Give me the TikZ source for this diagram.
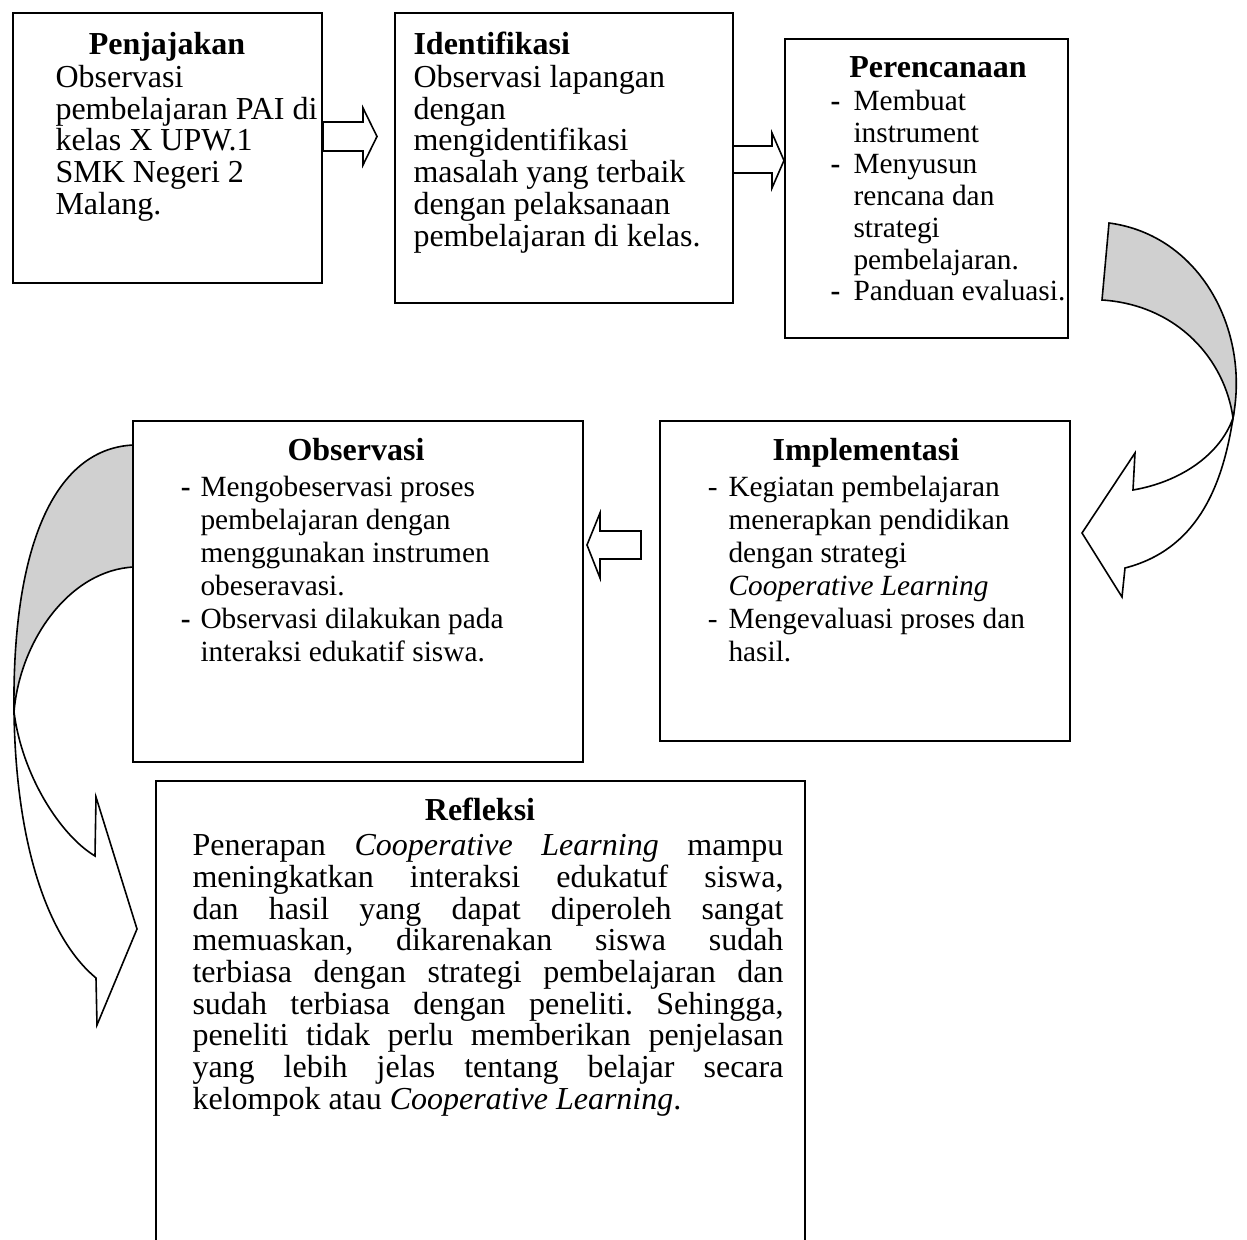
\documentclass[tikz,border=0pt]{standalone}
\usepackage{fontspec}
\setmainfont{Liberation Serif}
\setlength{\parindent}{0pt}
\frenchspacing
\definecolor{bandgray}{RGB}{208,208,208}
% strut fixing the height of a first text line
\newcommand{\tstrut}{\rule{0pt}{9pt}}
% hanging list dashes (bold and regular)
\newcommand{\bdash}[1]{\llap{\textbf{-}\hspace{#1}}}
\newcommand{\rdash}[1]{\llap{-\hspace{#1}}}
% one fully justified line of the Refleksi paragraph
\newlength{\reflw}
\setlength{\reflw}{221.6pt}
\newcommand{\jline}[1]{\hbox to \reflw{#1}}

\begin{document}
\begin{tikzpicture}[x=0.375pt, y=-0.375pt,
  boxwh/.style 2 args={minimum width=#1*0.375pt, minimum height=#2*0.375pt},
  box/.style={draw, line width=0.75pt, fill=white, anchor=north west, inner sep=0pt},
  ttl/.style={anchor=base, inner sep=0pt, font=\fontsize{12}{12}\selectfont\bfseries},
  txt/.style={anchor=north west, inner sep=0pt, align=left},
  twelve/.style={font=\fontsize{12}{11.9}\selectfont},
  eleven/.style={font=\fontsize{11}{12.4}\selectfont},
  band/.style={draw, line width=0.6pt, fill=bandgray, line join=miter},
  flat/.style={draw, line width=0.6pt, fill=white, line join=miter}]

\useasboundingbox (0,0) rectangle (1247,1240);
\clip (0,0) rectangle (1247,1240);

% curved arrow on the right: Perencanaan -> Implementasi
\path[band] (1102,300) -- (1109,223)
  .. controls (1200,235) and (1250,330) .. (1233,418)
  .. controls (1225,360) and (1178,305) .. (1102,300) -- cycle;
\path[flat] (1233,418) .. controls (1220,455) and (1180,482) .. (1133,490)
  -- (1135,453) -- (1082,533) -- (1122,597) -- (1125,568)
  .. controls (1195,550) and (1222,490) .. (1233,418) -- cycle;

% curved arrow on the left: Observasi -> Refleksi
\path[band] (134,445) .. controls (55,448) and (12,545) .. (14,712)
  .. controls (20,640) and (70,570) .. (134,567) -- cycle;
\path[flat] (14,712) .. controls (22,775) and (60,835) .. (95,856)
  -- (96,797) -- (137,929) -- (97,1025) -- (96,978)
  .. controls (50,940) and (16,850) .. (14,712) -- cycle;

% straight block arrows
\path[flat] (323,122) -- (363,122) -- (363,108) -- (377,136.5) -- (363,165)
  -- (363,151) -- (323,151) -- cycle;
\path[flat] (732,146) -- (772,146) -- (772,133) -- (784,160.5) -- (772,188)
  -- (772,173) -- (732,173) -- cycle;
\path[flat] (641,531) -- (600,531) -- (600,513) -- (587,545) -- (600,578)
  -- (600,559) -- (641,559) -- cycle;

% boxes
\node[box, boxwh={309}{270}] (pen) at (12,12) {};
\node[box, boxwh={338}{290}] (ide) at (394,12) {};
\node[box, boxwh={283}{299}] (per) at (784,38) {};
\node[box, boxwh={410}{320}] (imp) at (659,420) {};
\node[box, boxwh={450}{341}] (obs) at (132,420) {};
\node[box, boxwh={649}{500}] (ref) at (155,780) {};

% titles
\node[ttl] (pen-t) at (167,55) {Penjajakan};
\node[ttl, anchor=base west] (ide-t) at (413,55) {Identifikasi};
\node[ttl] (per-t) at (938,78) {Perencanaan};
\node[ttl] (imp-t) at (866,461) {Implementasi};
\node[ttl] (obs-t) at (356,461) {Observasi};
\node[ttl] (ref-t) at (480,821) {Refleksi};

% texts
\node[txt, twelve] (pen-b) at (55,63) {\tstrut Observasi\\
  pembelajaran PAI di\\ kelas X UPW.1\\ SMK Negeri 2\\ Malang.};
\node[txt, twelve] (ide-b) at (413,63) {\tstrut Observasi lapangan\\
  dengan\\ mengidentifikasi\\ masalah yang terbaik\\ dengan pelaksanaan\\
  pembelajaran di kelas.};
\node[txt, font=\fontsize{11}{11.9}\selectfont] (per-b) at (853,86)
  {\tstrut\bdash{4.9pt}Membuat\\ instrument\\ \bdash{4.9pt}Menyusun\\
  rencana dan\\ strategi\\ pembelajaran.\\ \bdash{4.9pt}Panduan evaluasi.};
\node[txt, eleven] (imp-b) at (728,472)
  {\tstrut\rdash{4.1pt}Kegiatan pembelajaran\\ menerapkan pendidikan\\
  dengan strategi\\ \textit{Cooperative Learning}\\
  \rdash{4.1pt}Mengevaluasi proses dan\\ hasil.};
\node[txt, eleven] (obs-b) at (200,472)
  {\tstrut\bdash{3.75pt}Mengobeservasi proses\\ pembelajaran dengan\\
  menggunakan instrumen\\ obeseravasi.\\
  \bdash{3.75pt}Observasi dilakukan pada\\ interaksi edukatif siswa.};
\node[txt, twelve] (ref-b) at (192,831)
  {\tstrut\jline{Penerapan \textit{Cooperative Learning} mampu}\\
  \jline{meningkatkan interaksi edukatuf siswa,}\\
  \jline{dan hasil yang dapat diperoleh sangat}\\
  \jline{memuaskan, dikarenakan siswa sudah}\\
  \jline{terbiasa dengan strategi pembelajaran dan}\\
  \jline{sudah terbiasa dengan peneliti. Sehingga,}\\
  \jline{peneliti tidak perlu memberikan penjelasan}\\
  \jline{yang lebih jelas tentang belajar secara}\\
  kelompok atau \textit{Cooperative Learning}.};
\end{tikzpicture}
\end{document}
